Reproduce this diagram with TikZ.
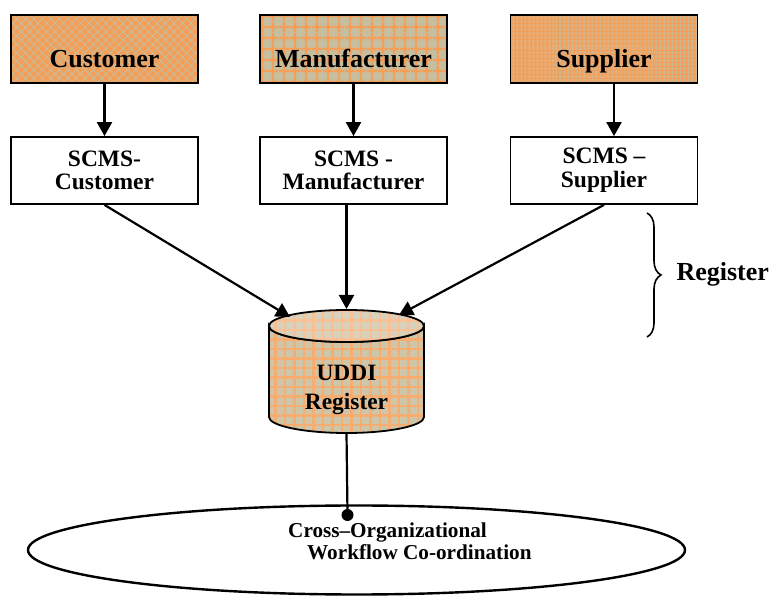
\documentclass[tikz,border=0pt]{standalone}
\usepackage{fontspec}
\setmainfont{Liberation Serif}
\usetikzlibrary{arrows.meta,patterns.meta,decorations.pathreplacing,shapes.geometric}

\definecolor{orangeA}{RGB}{244,158,88}
\definecolor{tanA}{RGB}{198,190,158}
\definecolor{orangeB}{RGB}{247,172,112}
\definecolor{tanB}{RGB}{205,198,170}
\definecolor{orangeC}{RGB}{248,192,148}
\definecolor{tanC}{RGB}{216,210,188}

\tikzset{
  partybox/.style={draw, line width=1.8pt, minimum width=187pt, minimum height=68pt,
    text height=38pt, text depth=0pt, font=\fontsize{26}{30}\selectfont\bfseries},
  scmsbox/.style={draw, fill=white, line width=1.8pt, minimum width=187pt, minimum height=67pt,
    align=center, font=\fontsize{23.5}{23.6}\selectfont\bfseries},
  flow/.style={line width=2.2pt, -{Triangle[length=14pt,width=15pt]}},
}

\begin{document}
\begin{tikzpicture}[x=1pt,y=1pt]
\useasboundingbox (0,0) rectangle (770,596);

% parties
\node[partybox, preaction={fill=orangeA}, pattern={Hatch[angle=45,distance=6pt,line width=0.8pt]}, pattern color=tanA]
  (cust) at (104.5,547) {Customer};
\node[partybox, preaction={fill=tanA}, pattern={Hatch[angle=0,distance=10.5pt,line width=2.5pt]}, pattern color=orangeA]
  (manu) at (353.5,547) {Manufacturer};
\node[partybox, preaction={fill=orangeA}, pattern={Lines[angle=90,distance=4pt,line width=2pt]}, pattern color=tanA]
  (supp) at (604,547) {Supplier};

% scms services
\node[scmsbox] (scmscust) at (104.5,425.5) {SCMS-\\Customer};
\node[scmsbox] (scmsmanu) at (353.5,425.5) {SCMS -\\Manufacturer};
\node[scmsbox] (scmssupp) at (604,425.5) {SCMS –\\Supplier};

\draw[flow] (cust) -- (scmscust);
\draw[flow] (manu) -- (scmsmanu);
\draw[flow] ([xshift=10pt]supp.south) -- ([xshift=10pt]scmssupp.north);

% uddi cylinder
\coordinate (cyltop) at (346.5,270);
\coordinate (cylbase) at (346.5,163);
\path[line width=1.8pt, draw, preaction={fill=tanB}, pattern={Hatch[angle=0,distance=9.5pt,line width=2.5pt]}, pattern color=orangeB]
  (269,270) -- (269,179) arc[start angle=180,end angle=360,x radius=77.5,y radius=16]
  -- (424,270) arc[start angle=0,end angle=-180,x radius=77.5,y radius=16] -- cycle;
\path[line width=1.8pt, draw, preaction={fill=tanC}, pattern={Hatch[angle=0,distance=9.5pt,line width=2.5pt]}, pattern color=orangeC]
  (cyltop) ellipse[x radius=77.5,y radius=16];
\node[align=center, font=\fontsize{23.4}{29}\selectfont\bfseries] (uddi) at (346.5,206) {UDDI\\Register};

\coordinate (inl) at (290,279);
\coordinate (inm) at (346.5,287);
\coordinate (inr) at (399,281);
\draw[flow] (scmscust.south) -- (inl);
\draw[flow] ([xshift=-7pt]scmsmanu.south) -- (inm);
\draw[flow] (scmssupp.south) -- (inr);

% register brace
\draw[line width=1.6pt, decorate, decoration={brace, amplitude=14pt}] (647,383) -- (647,259);
\node[anchor=west, font=\fontsize{26}{30}\selectfont\bfseries] (reg) at (673,322) {Register};

% workflow
\node[draw, ellipse, line width=2.4pt, minimum width=657pt, minimum height=89pt, inner sep=0pt] (wf) at (356.5,46) {};
\node[circle, fill, minimum size=12pt, inner sep=0pt] (dot) at (347.5,81) {};
\draw[line width=2.2pt] (cylbase) -- (dot);
\node[anchor=north west, inner sep=0pt, align=left, font=\fontsize{21.2}{22}\selectfont\bfseries] (wft) at (288,73)
  {Cross–Organizational\\\hspace*{19pt}Workflow Co-ordination};
\end{tikzpicture}
\end{document}
